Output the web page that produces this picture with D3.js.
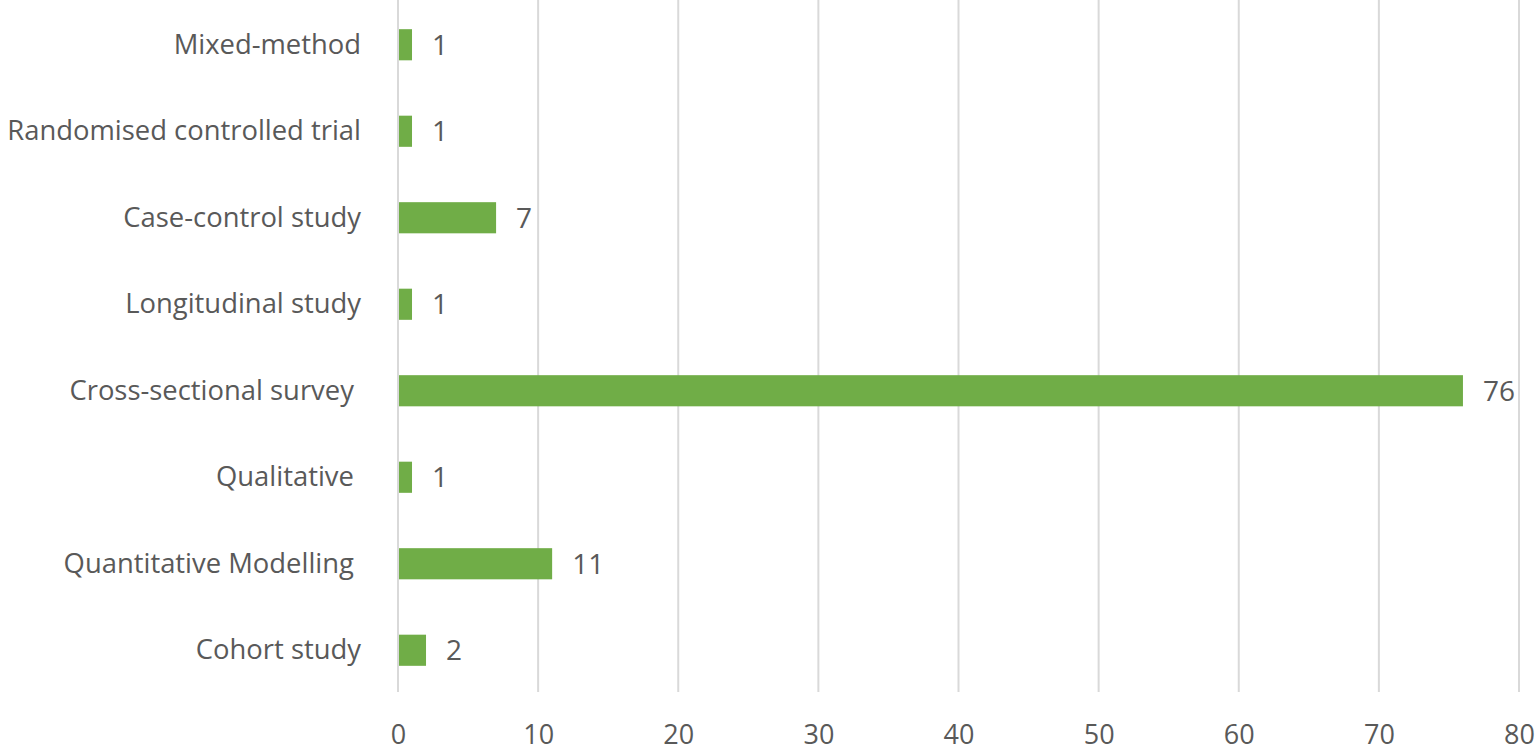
<!DOCTYPE html>
<html>
<head>
<meta charset="utf-8">
<script src="https://cdn.jsdelivr.net/npm/d3@7"></script>
<style>
  html, body { margin: 0; padding: 0; background: #fff; }
  svg text { font-family: "Open Sans", sans-serif; fill: #595959; white-space: pre; }
</style>
</head>
<body>
<svg id="chart" width="1536" height="753"></svg>
<script>
const categories = ["Mixed-method", "Randomised controlled trial", "Case-control study", "Longitudinal study", "Cross-sectional survey ", "Qualitative ", "Quantitative Modelling ", "Cohort study"];
const values = [1, 1, 7, 1, 76, 1, 11, 2];
const xTicks = [0, 10, 20, 30, 40, 50, 60, 70, 80];

const svg = d3.select("#chart");
const x = d3.scaleLinear().domain([0, 80]).range([398, 1519]);
const y = d3.scaleBand().domain(categories).range([1.5, 693.5]).paddingInner(0.64).paddingOuter(0.32);

// gridlines
svg.append("g").selectAll("line").data(xTicks).join("line")
  .attr("x1", d => x(d)).attr("x2", d => x(d))
  .attr("y1", 0).attr("y2", 692)
  .attr("stroke", "#d9d9d9").attr("stroke-width", 2);

// x axis tick labels
const xAxis = d3.axisBottom(x).tickValues(xTicks).tickSize(0).tickPadding(0);
const gx = svg.append("g").attr("transform", "translate(0,744)").call(xAxis);
gx.select(".domain").remove();
gx.selectAll("text").attr("font-size", 27).attr("dy", "0").attr("y", 0)
  .style("font-family", "'Open Sans', sans-serif").attr("fill", "#595959");

// y axis labels
const yAxis = d3.axisLeft(y).tickSize(0).tickPadding(0);
const gy = svg.append("g").attr("transform", "translate(361,0)").call(yAxis);
gy.select(".domain").remove();
gy.selectAll("text").attr("font-size", 27.4)
  .style("font-family", "'Open Sans', sans-serif").attr("fill", "#595959");

// bars
svg.append("g").selectAll("rect").data(values).join("rect")
  .attr("x", x(0) + 1)
  .attr("y", (d, i) => y(categories[i]))
  .attr("width", d => x(d) - x(0) - 1)
  .attr("height", y.bandwidth())
  .attr("fill", "#70ad47");

// value labels
svg.append("g").selectAll("text").data(values).join("text")
  .attr("x", d => x(d) + 20)
  .attr("y", (d, i) => y(categories[i]) + y.bandwidth() / 2)
  .attr("dy", "0.36em")
  .attr("font-size", 28)
  .attr("fill", "#404040")
  .text(d => d);
</script>
</body>
</html>
